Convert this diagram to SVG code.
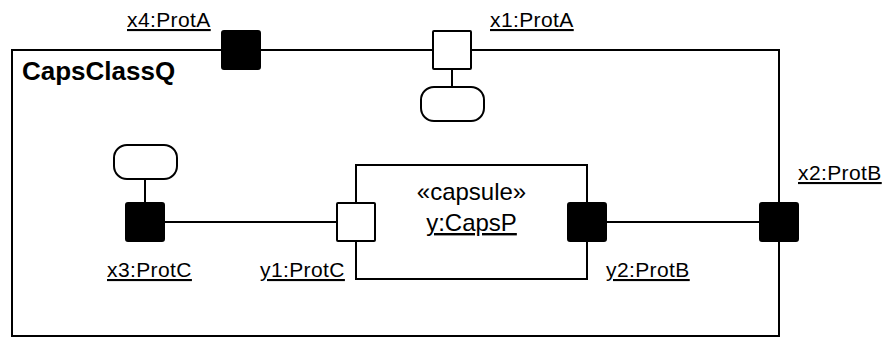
<svg xmlns="http://www.w3.org/2000/svg" width="887" height="338" viewBox="0 0 887 338">
<style>
.frame{fill:#fff;stroke:#000;stroke-width:2}
.box{fill:#fff;stroke:#000;stroke-width:2}
.pw{fill:#fff;stroke:#000;stroke-width:2}
.pb{fill:#000;stroke:#000;stroke-width:2}
.st{fill:#fff;stroke:#000;stroke-width:2}
.ln{fill:none;stroke:#000;stroke-width:2}
.lbl{font-family:"Liberation Sans",Arial,sans-serif;font-size:21px;fill:#000;text-decoration:underline;letter-spacing:0.4px}
.title{font-family:"Liberation Sans",Arial,sans-serif;font-size:26px;font-weight:bold;fill:#000}
.cap{font-family:"Liberation Sans",Arial,sans-serif;font-size:24px;fill:#000;text-anchor:middle}
</style>
<g id="CapsClassQ">
<rect class="frame" x="12" y="50" width="767" height="286"/>
<text class="title" x="22" y="80">CapsClassQ</text>
</g>
<g id="connectors">
<line class="ln" x1="165" y1="222" x2="337" y2="222"/>
<line class="ln" x1="607" y1="222" x2="759" y2="222"/>
<line class="ln" x1="452" y1="69" x2="452" y2="87"/>
<line class="ln" x1="145" y1="179" x2="145" y2="203"/>
</g>
<g id="y_CapsP">
<rect class="box" x="356" y="165" width="231" height="114"/>
<text class="cap" x="471.5" y="200">«capsule»</text>
<text class="cap" x="471.5" y="231" text-decoration="underline">y:CapsP</text>
</g>
<g id="x4">
<rect class="pb" x="222" y="31" width="38" height="38" rx="2"/>
<text class="lbl" x="127" y="27">x4:ProtA</text>
</g>
<g id="x1">
<rect class="pw" x="433" y="31" width="38" height="38" rx="1"/>
<text class="lbl" x="490" y="27">x1:ProtA</text>
</g>
<g id="x1_state">
<rect class="st" x="421" y="87" width="63" height="34" rx="13" ry="13"/>
</g>
<g id="x2">
<rect class="pb" x="760" y="203" width="38" height="38" rx="2"/>
<text class="lbl" x="798" y="180">x2:ProtB</text>
</g>
<g id="x3">
<rect class="pb" x="126" y="203" width="38" height="38" rx="2"/>
<text class="lbl" x="107" y="277">x3:ProtC</text>
</g>
<g id="x3_state">
<rect class="st" x="114" y="145" width="63" height="34" rx="13" ry="13"/>
</g>
<g id="y1">
<rect class="pw" x="337" y="203" width="38" height="38" rx="1"/>
<text class="lbl" x="260" y="277">y1:ProtC</text>
</g>
<g id="y2">
<rect class="pb" x="568" y="203" width="38" height="38" rx="2"/>
<text class="lbl" x="606" y="277">y2:ProtB</text>
</g>
</svg>
